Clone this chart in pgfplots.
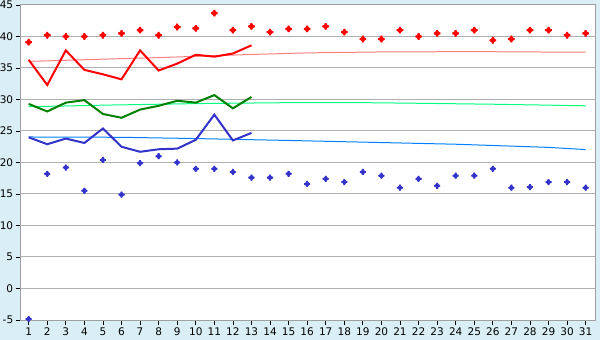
\documentclass[border=0pt]{standalone}
\usepackage{fontspec}
\setmainfont{DejaVu Sans}
\usepackage{pgfplots}
\pgfplotsset{compat=1.18}
\definecolor{bgblue}{RGB}{218,239,245}
\definecolor{gridgray}{RGB}{176,176,176}
\definecolor{axgray}{RGB}{160,160,160}
\definecolor{lred}{RGB}{255,0,0}
\definecolor{trendred}{RGB}{255,128,128}
\definecolor{dgreen}{RGB}{0,128,0}
\definecolor{trendgreen}{RGB}{0,255,128}
\definecolor{lblue}{RGB}{51,51,204}
\definecolor{trendblue}{RGB}{0,128,255}
\pgfdeclareplotmark{dplus}{%
  \pgfpathmoveto{\pgfqpoint{0pt}{\pgfplotmarksize}}%
  \pgfpathlineto{\pgfqpoint{\pgfplotmarksize}{0pt}}%
  \pgfpathlineto{\pgfqpoint{0pt}{-\pgfplotmarksize}}%
  \pgfpathlineto{\pgfqpoint{-\pgfplotmarksize}{0pt}}%
  \pgfpathclose
  \pgfusepathqfill
  \pgfpathrectangle{\pgfqpoint{-0.3\pgfplotmarksize}{-\pgfplotmarksize}}{\pgfqpoint{0.6\pgfplotmarksize}{2\pgfplotmarksize}}%
  \pgfpathrectangle{\pgfqpoint{-\pgfplotmarksize}{-0.3\pgfplotmarksize}}{\pgfqpoint{2\pgfplotmarksize}{0.6\pgfplotmarksize}}%
  \pgfusepathqfill
}
\begin{document}
\begin{tikzpicture}
\fill[bgblue] (0,0) rectangle (600bp,340bp);
\useasboundingbox (0,0) rectangle (600bp,340bp);
\begin{axis}[
  at={(20.7bp,20bp)}, anchor=south west,
  scale only axis, width=574.6bp, height=315bp,
  xmin=0.57, xmax=31.52, ymin=-5, ymax=45,
  axis background/.style={fill=white},
  axis line style={axgray, line width=1bp},
  xtick={1,...,31}, ytick={-5,0,...,45},
  ymajorgrids, grid style={gridgray, line width=1bp},
  tick style={black, line width=0.8bp},
  xtick pos=bottom, ytick pos=left,
  tick align=outside,
  major tick length=5bp,
  tick label style={font=\fontsize{10.5bp}{12bp}\selectfont},
  /pgf/number format/assume math mode=true,
  xticklabel style={yshift=1bp},
  yticklabel style={xshift=1bp},
  clip=false,
]
% trend lines
\addplot[trendred, line width=1bp] coordinates {(1,36.05) (5,36.4) (8,36.65) (10,36.85) (13,37.15) (16,37.4) (20,37.55) (25,37.6) (31,37.5)};
\addplot[trendgreen, line width=1bp] coordinates {(1,28.85) (5,29.1) (10,29.35) (15,29.5) (19,29.5) (22,29.4) (26,29.25) (29,29.1) (31,29.0)};
\addplot[trendblue, line width=1bp] coordinates {(1,24.05) (6,24.0) (10,23.8) (15,23.5) (18,23.3) (21,23.1) (24,22.9) (27,22.6) (29,22.4) (31,22.05)};
% main lines
\addplot[lred, line width=2bp] coordinates {(1,36.3) (2,32.3) (3,37.8) (4,34.7) (5,34.0) (6,33.2) (7,37.8) (8,34.6) (9,35.7) (10,37.1) (11,36.8) (12,37.3) (13,38.6)};
\addplot[dgreen, line width=2bp] coordinates {(1,29.3) (2,28.1) (3,29.5) (4,29.9) (5,27.7) (6,27.1) (7,28.4) (8,29.0) (9,29.8) (10,29.5) (11,30.7) (12,28.6) (13,30.4)};
\addplot[lblue, line width=2bp] coordinates {(1,24.0) (2,22.9) (3,23.8) (4,23.1) (5,25.4) (6,22.5) (7,21.7) (8,22.1) (9,22.2) (10,23.6) (11,27.6) (12,23.5) (13,24.7)};
% scatter points
\addplot[only marks, mark=dplus, mark size=3.3bp, lred] coordinates {(1,39.1) (2,40.2) (3,40.0) (4,40.0) (5,40.2) (6,40.5) (7,41.0) (8,40.2) (9,41.5) (10,41.3) (11,43.7) (12,41.0) (13,41.6) (14,40.7) (15,41.2) (16,41.2) (17,41.6) (18,40.7) (19,39.6) (20,39.6) (21,41.0) (22,40.0) (23,40.5) (24,40.5) (25,41.0) (26,39.4) (27,39.6) (28,41.0) (29,41.0) (30,40.2) (31,40.5)};
\addplot[only marks, mark=dplus, mark size=3.0bp, lblue] coordinates {(1,-4.85) (2,18.2) (3,19.2) (4,15.5) (5,20.4) (6,14.9) (7,19.9) (8,21.0) (9,20.0) (10,19.0) (11,19.0) (12,18.5) (13,17.6) (14,17.6) (15,18.2) (16,16.6) (17,17.4) (18,16.9) (19,18.5) (20,17.9) (21,16.0) (22,17.4) (23,16.3) (24,17.9) (25,17.9) (26,19.0) (27,16.0) (28,16.1) (29,16.9) (30,16.9) (31,16.0)};
\end{axis}
\end{tikzpicture}
\end{document}
